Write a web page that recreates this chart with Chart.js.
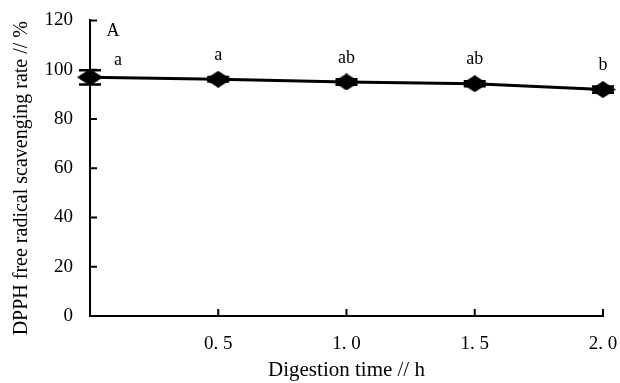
<!DOCTYPE html>
<html>
<head>
<meta charset="utf-8">
<script src="https://cdn.jsdelivr.net/npm/chart.js@4.4.1/dist/chart.umd.min.js"></script>
<style>
  html, body { margin: 0; padding: 0; background: #fff; }
  #wrap { width: 620px; height: 383px; }
</style>
</head>
<body>
<div id="wrap"><canvas id="myChart"></canvas></div>
<script>
// digestion time (h) and DPPH scavenging rate (%)
const times = [0, 0.5, 1.0, 1.5, 2.0];
const rates = [96.9, 96.1, 95.0, 94.3, 91.9];
const errors = [2.9, 0.9, 1.1, 1.0, 1.3];
const letters = ["a", "a", "ab", "ab", "b"];
const panelLabel = "A";

const serif = "'Liberation Serif', 'DejaVu Serif', serif";

// flat diamond marker
function makeDiamond(w, h) {
  const c = document.createElement("canvas");
  c.width = w;
  c.height = h;
  const g = c.getContext("2d");
  g.fillStyle = "#000";
  g.beginPath();
  g.moveTo(w / 2, 0);
  g.lineTo(w, h / 2);
  g.lineTo(w / 2, h);
  g.lineTo(0, h / 2);
  g.closePath();
  g.fill();
  return c;
}
const diamond = makeDiamond(26, 17);

// error bars, significance letters, inward tick marks
const extrasPlugin = {
  id: "extras",
  afterDatasetsDraw(chart) {
    const ctx = chart.ctx;
    const xs = chart.scales.x;
    const ys = chart.scales.y;
    const area = chart.chartArea;
    ctx.save();
    ctx.strokeStyle = "#000";
    ctx.lineWidth = 2.5;
    times.forEach((t, i) => {
      const px = xs.getPixelForValue(t);
      const hi = ys.getPixelForValue(rates[i] + errors[i]);
      const lo = ys.getPixelForValue(rates[i] - errors[i]);
      ctx.beginPath();
      ctx.moveTo(px, hi);
      ctx.lineTo(px, lo);
      ctx.moveTo(px - 11, hi);
      ctx.lineTo(px + 11, hi);
      ctx.moveTo(px - 11, lo);
      ctx.lineTo(px + 11, lo);
      ctx.stroke();
    });

    ctx.fillStyle = "#000";
    ctx.font = "18px " + serif;
    ctx.textAlign = "center";
    ctx.textBaseline = "middle";
    times.forEach((t, i) => {
      let px = xs.getPixelForValue(t);
      if (i === 0) px += 28;
      const py = ys.getPixelForValue(rates[i]) - (i === 0 ? 17 : 24);
      ctx.fillText(letters[i], px, py);
    });
    ctx.fillText(panelLabel, area.left + 23, area.top + 11);

    // inward ticks
    ctx.lineWidth = 2;
    ctx.beginPath();
    ys.ticks.forEach((tk) => {
      const py = ys.getPixelForValue(tk.value);
      ctx.moveTo(area.left, py);
      ctx.lineTo(area.left + 7, py);
    });
    xs.ticks.forEach((tk) => {
      if (tk.value === 0) return;
      const px = xs.getPixelForValue(tk.value);
      ctx.moveTo(px, area.bottom);
      ctx.lineTo(px, area.bottom - 7);
    });
    ctx.stroke();
    ctx.restore();
  },
};

const ctx = document.getElementById("myChart");
new Chart(ctx, {
  type: "line",
  data: {
    datasets: [
      {
        data: times.map((t, i) => ({ x: t, y: rates[i] })),
        borderColor: "#000",
        backgroundColor: "#000",
        borderWidth: 3,
        tension: 0,
        clip: false,
        pointStyle: diamond,
        pointRadius: 9,
      },
    ],
  },
  options: {
    responsive: true,
    maintainAspectRatio: false,
    animation: false,
    layout: { padding: { top: 14, right: 17, left: 0, bottom: 0 } },
    plugins: {
      legend: { display: false },
      tooltip: { enabled: false },
    },
    scales: {
      x: {
        type: "linear",
        min: 0,
        max: 2,
        grid: { display: false },
        border: { display: true, color: "#000", width: 2 },
        ticks: {
          stepSize: 0.5,
          autoSkip: false,
          maxRotation: 0,
          padding: 9,
          color: "#000",
          font: { family: serif, size: 19 },
          callback: (v) => (v === 0 ? "" : v.toFixed(1).replace(".", ". ")),
        },
        title: {
          display: true,
          text: "Digestion time // h",
          color: "#000",
          font: { family: serif, size: 21 },
          padding: { top: 0, bottom: 0 },
        },
        afterFit: (scale) => {
          scale.height = 67;
          scale.paddingLeft = 0;
          scale.paddingRight = 0;
        },
      },
      y: {
        min: 0,
        max: 120,
        grid: { display: false },
        border: { display: true, color: "#000", width: 2 },
        ticks: {
          stepSize: 20,
          padding: 9,
          color: "#000",
          font: { family: serif, size: 19 },
        },
        title: {
          display: true,
          // trailing spaces nudge the text down along the axis
          text: "DPPH free radical scavenging rate // %    ",
          color: "#000",
          font: { family: serif, size: 20 },
          padding: { top: 10, bottom: 0 },
        },
        afterFit: (scale) => {
          scale.width = 90;
        },
      },
    },
  },
  plugins: [extrasPlugin],
});
</script>
</body>
</html>
